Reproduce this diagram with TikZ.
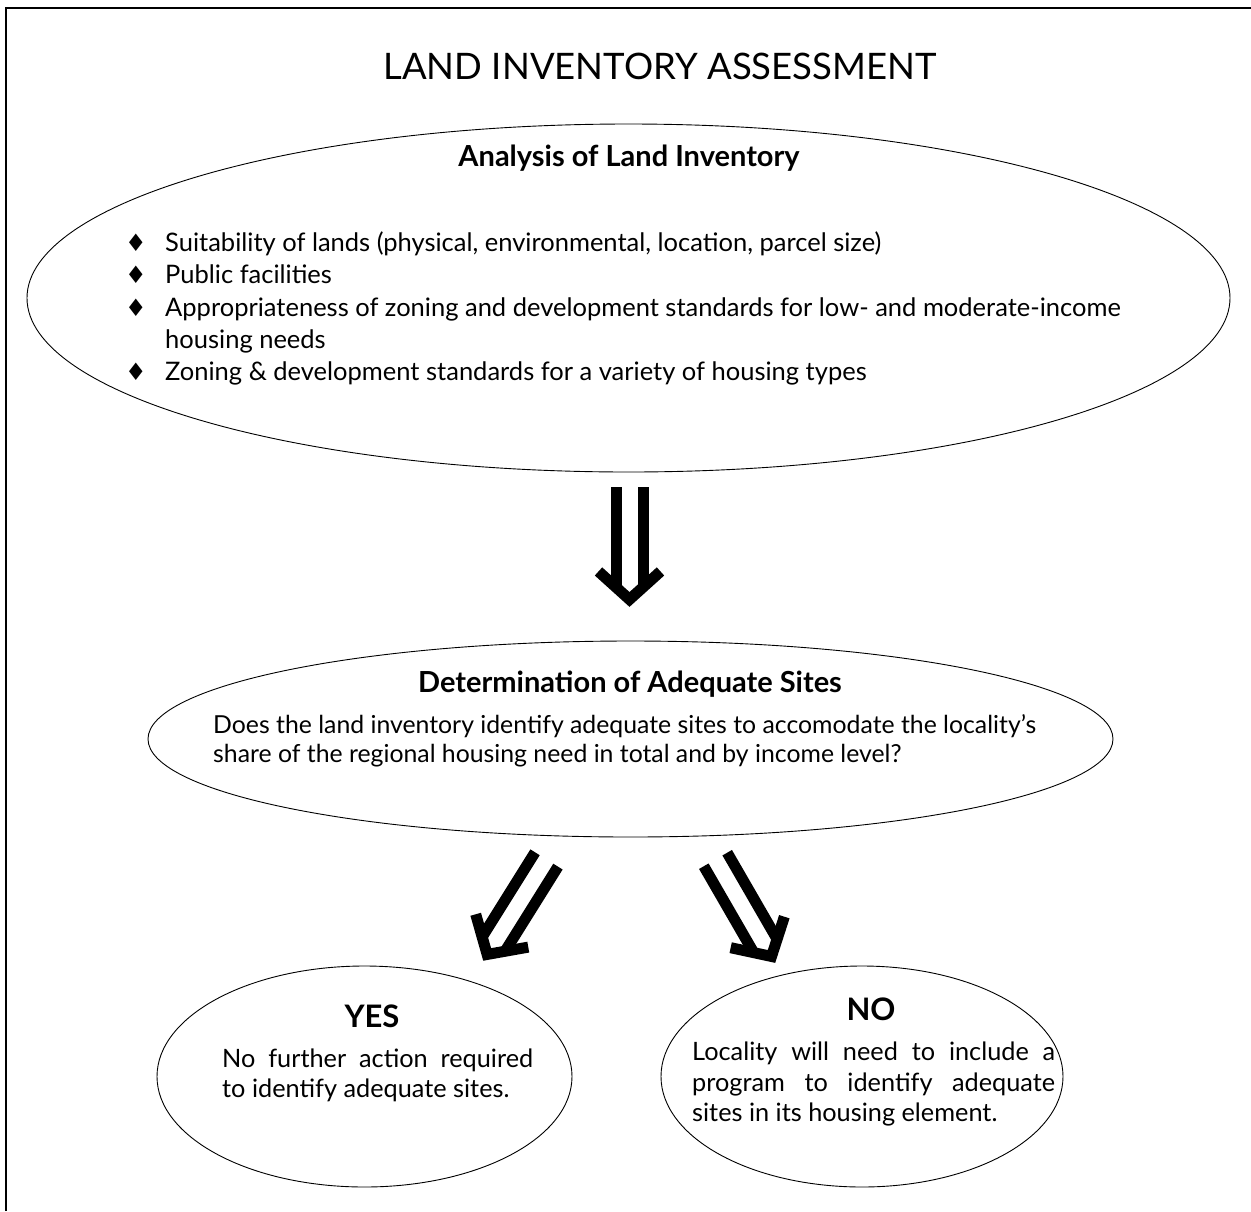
\documentclass[tikz,border=0pt]{standalone}
\usepackage{fontspec}
\setmainfont{Lato}
\newfontfamily\symfont{DejaVu Sans}
\usetikzlibrary{shapes.geometric,calc}
\tikzset{
  bubble/.style={draw, ellipse, inner sep=0pt, line width=0.9pt},
  titletext/.style={font=\fontsize{36.5}{40}\selectfont, inner sep=0pt},
  headtext/.style={font=\fontsize{29}{34}\selectfont\bfseries, inner sep=0pt},
  bodytext/.style={font=\fontsize{25.5}{31}\selectfont, inner sep=0pt},
  bullet/.style={font=\fontsize{24}{28}\selectfont\symfont, inner sep=0pt},
  dblarrow/.pic={
    \draw[line width=11pt] (-13.5,0) -- (-13.5,100) (13.5,0) -- (13.5,100);
    \draw[line width=11pt, miter limit=4] (-31,84) -- (0,112) -- (31,84);
  }
}
\begin{document}
\begin{tikzpicture}[x=1pt,y=-1pt]
\useasboundingbox (0,0) rectangle (1251,1211);
\draw[line width=2pt] (6,1211) -- (6,8) -- (1251,8);

\node[anchor=base, titletext] (ttl) at (660,79) {LAND INVENTORY ASSESSMENT};

% ellipses
\node[bubble, minimum width=1203pt, minimum height=348pt] (analysis) at (628.5,298) {};
\node[bubble, minimum width=965pt, minimum height=196pt] (determ) at (630.5,739) {};
\node[bubble, minimum width=415pt, minimum height=221pt] (yes) at (364.5,1076.5) {};
\node[bubble, minimum width=402pt, minimum height=221pt] (no) at (862,1076.5) {};

% analysis text
\node[anchor=base, headtext] (h1) at (629,166) {Analysis of Land Inventory};
\foreach \yy/\txt/\bul in {
  251/{Suitability of lands (physical, environmental, location, parcel size)}/1,
  283/{Public facilities}/1,
  316/{Appropriateness of zoning and development standards for low- and moderate-income}/1,
  348/{housing needs}/0,
  380/{Zoning \& development standards for a variety of housing types}/1}{
  \node[anchor=base west, bodytext] at (165,\yy) {\txt};
  \ifnum\bul=1 \node[anchor=base, bullet] at (136,\yy) {♦};\fi
}

% determination text
\node[anchor=base, headtext] (h2) at (630,692) {Determination of Adequate Sites};
\node[anchor=base west, bodytext, font=\fontsize{24.8}{30}\selectfont] (q1) at (213,733) {Does the land inventory identify adequate sites to accomodate the locality’s};
\node[anchor=base west, bodytext, font=\fontsize{24.8}{30}\selectfont] (q2) at (213,762) {share of the regional housing need in total and by income level?};

% yes
\node[anchor=base, headtext, font=\fontsize{31}{36}\selectfont\bfseries] (yh) at (372,1027) {YES};
\node[anchor=north west, bodytext, text width=311pt, align=justify, font=\fontsize{25.3}{29.5}\selectfont] (yt) at (222,1049)
  {No further action required\linebreak to identify adequate sites.};

% no
\node[anchor=base, headtext, font=\fontsize{31}{36}\selectfont\bfseries] (nh) at (871,1020) {NO};
\node[anchor=north west, bodytext, text width=363pt, align=justify, font=\fontsize{25.3}{30.5}\selectfont] (nt) at (692,1042)
  {Locality will need to include a\linebreak program to identify adequate\linebreak sites in its housing element.};

% arrows
\coordinate (a1) at ($(analysis.south)+(1,15)$);
\coordinate (a2) at ($(determ.south)+(-84,22)$);
\coordinate (a3) at ($(determ.south)+(85,22)$);
\pic at (a1) {dblarrow};
\pic[rotate=-32] at (a2) {dblarrow};
\pic[rotate=30] at (a3) {dblarrow};
\end{tikzpicture}
\end{document}
